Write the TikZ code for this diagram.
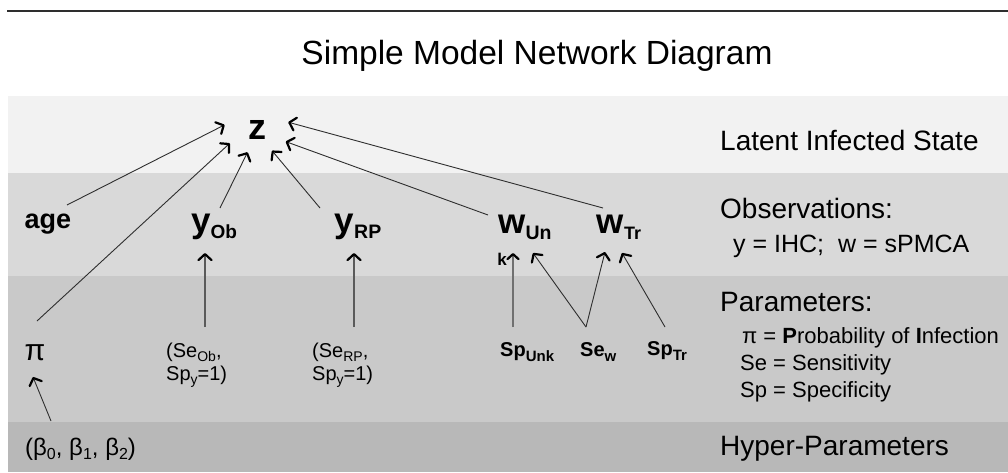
\documentclass[tikz,border=0pt]{standalone}
\usepackage{fontspec}
\setmainfont{Liberation Sans}
\usetikzlibrary{arrows.meta,shapes.geometric}
\definecolor{bandA}{HTML}{F2F2F2}
\definecolor{bandB}{HTML}{D9D9D9}
\definecolor{bandC}{HTML}{C9C9C9}
\definecolor{bandD}{HTML}{B8B8B8}
\definecolor{linec}{HTML}{2E2E2E}
\definecolor{grayline}{HTML}{5A5A5A}
\definecolor{thickgray}{HTML}{707070}
\newcommand{\myfs}[1]{\fontsize{#1}{#1}\selectfont}
\newcommand{\lowsub}[3]{\raisebox{-#2pt}{\myfs{#1}#3}}
\begin{document}
\begin{tikzpicture}[x=1pt,y=-1pt,
  tip/.tip={Straight Barb[length=6pt,width=13pt,line width=2.2pt,round,black]},
  arr/.style={draw=linec, line width=0.9pt, -tip},
  garr/.style={draw=grayline, line width=1.3pt, -tip},
  tarr/.style={draw=thickgray, line width=2.4pt, -{Straight Barb[length=5pt,width=11pt,line width=2.2pt,round,black]}},
  bigvar/.style={font=\bfseries\myfs{35}, inner sep=0pt, anchor=base},
  parm/.style={font=\bfseries\myfs{20}, inner sep=0pt, anchor=base west},
  lvl/.style={font=\myfs{28}, inner sep=0pt, anchor=base west},
  legend/.style={font=\myfs{22}, inner sep=0pt, anchor=base west},
  paren/.style={font=\fontsize{20}{23}\selectfont, inner sep=0pt, anchor=north west, align=left}]
\useasboundingbox (0,0) rectangle (1008,473);
% bands
\fill[bandA] (8,96) rectangle (1008,173);
\fill[bandB] (8,173) rectangle (1008,276);
\fill[bandC] (8,276) rectangle (1008,422);
\fill[bandD] (8,422) rectangle (1008,472);
% top rule
\draw[line width=2.4pt, draw=linec] (7,11) -- (1008,11);
% title
\node[font=\myfs{33.5}, inner sep=0pt, anchor=base] (title) at (537,65) {Simple Model Network Diagram};
% level labels
\node[lvl] (lat) at (720,151) {Latent Infected State};
\node[lvl] (obs) at (720,218) {Observations:};
\node[font=\myfs{25}, inner sep=0pt, anchor=base west] (obsdef) at (733,252) {y = IHC;\ \ w = sPMCA};
\node[lvl] (par) at (720,311) {Parameters:};
\node[legend] (legpi) at (742,343) {π = {\bfseries P}robability of {\bfseries I}nfection};
\node[legend] (legse) at (740,370) {Se = Sensitivity};
\node[legend] (legsp) at (740,397) {Sp = Specificity};
\node[lvl] (hyp) at (720,455) {Hyper-Parameters};
% variables
\node[ellipse, minimum width=66pt, minimum height=46pt, inner sep=0pt, font=\bfseries\myfs{36}] (z) at (257,130) {z};
\node[font=\bfseries\myfs{27}, inner sep=0pt, anchor=base] (age) at (48,228) {age};
\node[bigvar] (yOb) at (214,232) {y\lowsub{19}{6}{Ob}};
\node[bigvar] (yRP) at (358,232) {y\lowsub{19.5}{6}{RP}};
\node[bigvar] (wUn) at (525,233) {w\lowsub{19.5}{6}{Un}};
\node[bigvar] (wTr) at (619,233) {w\lowsub{18}{6}{Tr}};
\node[font=\bfseries\myfs{17}, inner sep=0pt, anchor=base] (k) at (502,265) {k};
% parameters
\node[font=\myfs{30}, inner sep=0pt, anchor=base] (pi) at (35,360) {π};
\node[paren] (SeOb) at (166,343) {(Se\lowsub{14}{4}{Ob},\\Sp\lowsub{14}{4}{y}=1)};
\node[paren] (SeRP) at (312,343) {(Se\lowsub{14}{4}{RP},\\Sp\lowsub{14}{4}{y}=1)};
\node[parm] (SpUnk) at (500,356) {Sp\lowsub{15}{5}{Unk}};
\node[parm] (Sew) at (580,356) {Se\lowsub{15}{5}{w}};
\node[parm] (SpTr) at (647,355) {Sp\lowsub{15}{5}{Tr}};
% hyper-parameters
\node[font=\myfs{24}, inner sep=0pt, anchor=base west] (beta) at (25,455) {(β\lowsub{16}{4}{0}, β\lowsub{16}{4}{1}, β\lowsub{16}{4}{2})};
% connectors to z
\draw[arr] ([xshift=19pt,yshift=23pt]age.base) -- (z.171);
\draw[arr] ([xshift=2pt,yshift=39pt]pi.base) -- (z.206);
\draw[arr] ([xshift=6pt,yshift=24pt]yOb.base) -- (z.247);
\draw[arr] ([xshift=-38pt,yshift=24pt]yRP.base) -- (z.306);
\draw[arr] ([xshift=-37pt,yshift=18pt]wUn.base) -- (z.338);
\draw[arr] ([xshift=-16pt,yshift=25pt]wTr.base) -- (z.14);
% parameters to observations
\draw[garr] ([xshift=39pt,yshift=16pt]SeOb.north west) -- ([xshift=-9pt,yshift=-21pt]yOb.base);
\draw[garr] ([xshift=42pt,yshift=16pt]SeRP.north west) -- ([xshift=-4pt,yshift=-21pt]yRP.base);
\draw[tarr] ([xshift=13pt,yshift=29pt]SpUnk.base west) -- ([xshift=-12pt,yshift=-20pt]wUn.base);
\draw[arr] ([xshift=6pt,yshift=29pt]Sew.base west) -- ([xshift=8pt,yshift=-20pt]wUn.base);
\draw[arr] ([xshift=6pt,yshift=29pt]Sew.base west) -- ([xshift=-14pt,yshift=-19pt]wTr.base);
\draw[arr] ([xshift=18pt,yshift=28pt]SpTr.base west) -- ([xshift=3pt,yshift=-20pt]wTr.base);
% hyper to pi
\draw[arr] ([xshift=26pt,yshift=34pt]beta.base west) -- ([xshift=-2pt,yshift=-17pt]pi.base);
\end{tikzpicture}
\end{document}
